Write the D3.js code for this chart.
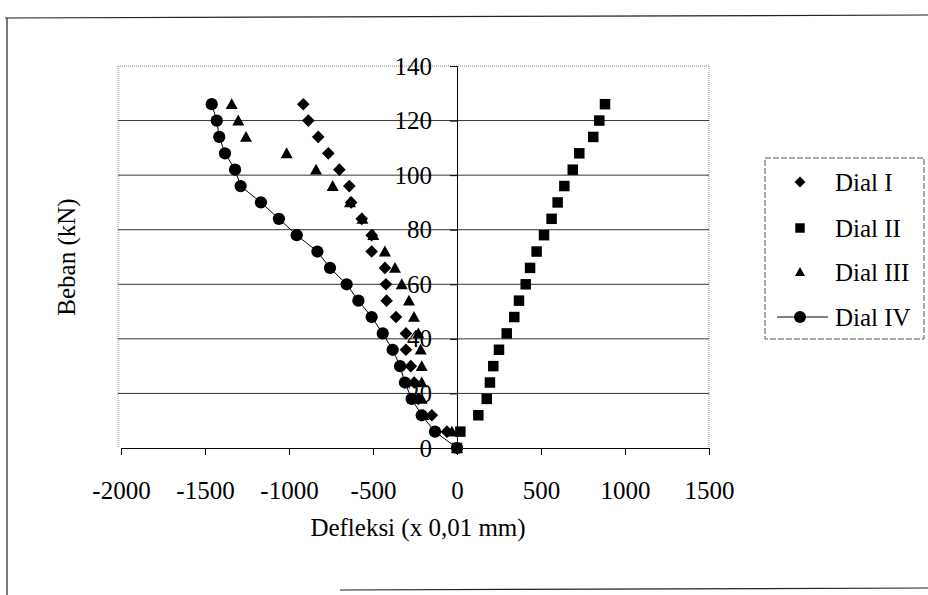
<!DOCTYPE html>
<html>
<head>
<meta charset="utf-8">
<script src="https://cdn.jsdelivr.net/npm/d3@7"></script>
<style>
  html, body { margin: 0; padding: 0; background: #fff; }
  svg { display: block; }
  text { font-family: "Liberation Serif", "Times New Roman", serif; fill: #000; }
</style>
</head>
<body>
<script>
// ---- data ----
const loads = [0, 6, 12, 18, 24, 30, 36, 42, 48, 54, 60, 66, 72, 78, 84, 90, 96, 102, 108, 114, 120, 126];
const dialI   = [0, -60, -150, -230, -255, -275, -304, -304, -363, -419, -423, -429, -508, -508, -567, -630, -641, -700, -766, -826, -885, -915];
const dialII  = [0, 20, 127, 177, 196, 216, 250, 296, 341, 369, 409, 435, 474, 518, 563, 599, 639, 689, 728, 811, 847, 881];
const dialIII = [0, -30, -200, -210, -210, -210, -216, -230, -256, -286, -329, -369, -429, -498, -563, -637, -740, -839, -1014, -1256, -1302, -1341];
const dialIV  = [0, -131, -210, -270, -310, -339, -383, -442, -508, -587, -657, -756, -831, -954, -1060, -1167, -1288, -1321, -1381, -1415, -1430, -1460];
const seriesNames = ["Dial I", "Dial II", "Dial III", "Dial IV"];
const xTicks = [-2000, -1500, -1000, -500, 0, 500, 1000, 1500];
const yTicks = [0, 20, 40, 60, 80, 100, 120, 140];
const xTitle = "Defleksi (x 0,01 mm)";
const yTitle = "Beban (kN)";

// ---- layout ----
const W = 928, H = 595;
const svg = d3.select("body").append("svg").attr("width", W).attr("height", H);

const x = d3.scaleLinear().domain([-2000, 1500]).range([121, 709]);
const y = d3.scaleLinear().domain([0, 140]).range([448, 66]);

// outer chart border (partially visible in scan)
const border = svg.append("g").attr("stroke", "#222").attr("stroke-width", 1.2).attr("fill", "none");
border.append("line").attr("x1", 5).attr("y1", 18).attr("x2", 928).attr("y2", 15);
border.append("line").attr("x1", 7).attr("y1", 18).attr("x2", 7).attr("y2", 595);
border.append("line").attr("x1", 340).attr("y1", 590).attr("x2", 928).attr("y2", 588);

// plot area border (dotted)
const pa = svg.append("g").attr("stroke", "#888").attr("stroke-width", 1).attr("stroke-dasharray", "1,1").attr("fill", "none");
pa.append("line").attr("x1", 118).attr("y1", y(140)).attr("x2", x(1500)).attr("y2", y(140));
pa.append("line").attr("x1", 118).attr("y1", y(140)).attr("x2", 118).attr("y2", y(0));
pa.append("line").attr("x1", x(1500)).attr("y1", y(140)).attr("x2", x(1500)).attr("y2", y(0));

// gridlines
svg.append("g").selectAll("line").data(yTicks.filter(d => d > 0 && d < 140)).join("line")
  .attr("x1", 118).attr("x2", x(1500))
  .attr("y1", d => y(d)).attr("y2", d => y(d))
  .attr("stroke", "#333").attr("stroke-width", 1);

// x axis at y=0
const xAxis = svg.append("g").attr("transform", `translate(0,${y(0)})`)
  .call(d3.axisBottom(x).tickValues(xTicks).tickSize(7).tickSizeOuter(7).tickPadding(26).tickFormat(d => String(d)));
xAxis.selectAll("text").attr("font-size", 25).style("font-family", '"Liberation Serif", serif');
xAxis.selectAll("line, path").attr("stroke", "#000");

// y axis at x=0
const yAxis = svg.append("g").attr("transform", `translate(${x(0)},0)`)
  .call(d3.axisLeft(y).tickValues(yTicks).tickSize(7).tickSizeOuter(7).tickPadding(18).tickFormat(d => String(d)));
yAxis.selectAll("text").attr("font-size", 25).style("font-family", '"Liberation Serif", serif');
yAxis.selectAll("line, path").attr("stroke", "#000");

// axis titles
svg.append("text").attr("x", 418).attr("y", 536).attr("text-anchor", "middle").attr("font-size", 25).text(xTitle);
svg.append("text").attr("transform", `translate(75,257) rotate(-90)`).attr("text-anchor", "middle").attr("font-size", 25).text(yTitle);

// symbols
const diamond = { draw(ctx, s) { const r = Math.sqrt(s) / 2 * 1.15; ctx.moveTo(0, -r); ctx.lineTo(r, 0); ctx.lineTo(0, r); ctx.lineTo(-r, 0); ctx.closePath(); } };
const square = { draw(ctx, s) { const h = Math.sqrt(s) / 2; ctx.rect(-h, -h, 2 * h, 2 * h); } };
const triangle = { draw(ctx, s) { const h = Math.sqrt(s) / 2; ctx.moveTo(0, -h * 1.05); ctx.lineTo(h * 1.05, h * 0.85); ctx.lineTo(-h * 1.05, h * 0.85); ctx.closePath(); } };
const circle = { draw(ctx, s) { const r = Math.sqrt(s) / 2; ctx.moveTo(r, 0); ctx.arc(0, 0, r, 0, 2 * Math.PI); } };

const series = [
  { name: seriesNames[0], vals: dialI, type: diamond, size: 121, line: false },
  { name: seriesNames[1], vals: dialII, type: square, size: 110, line: false },
  { name: seriesNames[2], vals: dialIII, type: triangle, size: 130, line: false },
  { name: seriesNames[3], vals: dialIV, type: circle, size: 150, line: true }
];

const plot = svg.append("g");
series.forEach(s => {
  const pts = loads.map((l, i) => ({ x: s.vals[i], y: l }));
  if (s.line) {
    plot.append("path").datum(pts)
      .attr("d", d3.line().x(d => x(d.x)).y(d => y(d.y)))
      .attr("fill", "none").attr("stroke", "#000").attr("stroke-width", 1);
  }
  plot.append("g").selectAll("path").data(pts).join("path")
    .attr("transform", d => `translate(${x(d.x)},${y(d.y)})`)
    .attr("d", d3.symbol().type(s.type).size(s.size))
    .attr("fill", "#000");
});

// legend
const lg = svg.append("g");
lg.append("rect").attr("x", 765).attr("y", 158).attr("width", 159).attr("height", 181)
  .attr("fill", "#fff").attr("stroke", "#555").attr("stroke-width", 1).attr("stroke-dasharray", "6,2");
const ly = [182, 228, 272, 317];
series.forEach((s, i) => {
  if (s.line) {
    lg.append("line").attr("x1", 777).attr("x2", 828).attr("y1", ly[i]).attr("y2", ly[i]).attr("stroke", "#000").attr("stroke-width", 1);
  }
  lg.append("path").attr("transform", `translate(800,${ly[i]})`)
    .attr("d", d3.symbol().type(s.type).size(s.line ? 144 : 90)).attr("fill", "#000");
  lg.append("text").attr("x", 835).attr("y", ly[i]).attr("dy", "0.35em").attr("font-size", 25).text(s.name);
});
</script>
</body>
</html>
